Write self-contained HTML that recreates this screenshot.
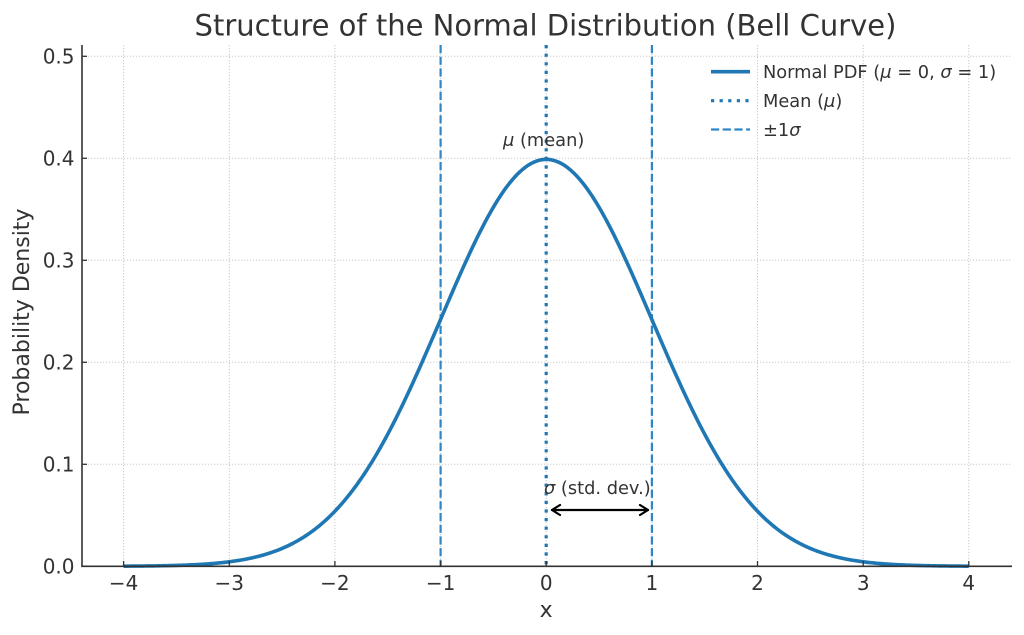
<!DOCTYPE html>
<html>
<head>
<meta charset="utf-8">
<style>
  html, body { margin:0; padding:0; background:#ffffff; }
  svg { display:block; }
  text { font-family: "DejaVu Sans", "Liberation Sans", sans-serif; fill:#333333; }
</style>
</head>
<body>
<svg width="1024" height="635" viewBox="0 0 1024 635" xmlns="http://www.w3.org/2000/svg">
  <rect x="0" y="0" width="1024" height="635" fill="#ffffff"/>

  <!-- grid -->
  <g stroke="#c8c8c8" stroke-width="1" stroke-dasharray="1.2 1.8">
    <line x1="123.6" y1="45" x2="123.6" y2="566"/>
    <line x1="229.3" y1="45" x2="229.3" y2="566"/>
    <line x1="334.9" y1="45" x2="334.9" y2="566"/>
    <line x1="440.6" y1="45" x2="440.6" y2="566"/>
    <line x1="546.2" y1="45" x2="546.2" y2="566"/>
    <line x1="651.9" y1="45" x2="651.9" y2="566"/>
    <line x1="757.5" y1="45" x2="757.5" y2="566"/>
    <line x1="863.2" y1="45" x2="863.2" y2="566"/>
    <line x1="968.8" y1="45" x2="968.8" y2="566"/>
    <line x1="82" y1="56.3" x2="1012" y2="56.3"/>
    <line x1="82" y1="158.3" x2="1012" y2="158.3"/>
    <line x1="82" y1="260.3" x2="1012" y2="260.3"/>
    <line x1="82" y1="362.3" x2="1012" y2="362.3"/>
    <line x1="82" y1="464.3" x2="1012" y2="464.3"/>
  </g>

  <!-- ±1σ dashed lines -->
  <g stroke="#2f86c6" stroke-width="2.2" stroke-dasharray="8.2 3.5">
    <line x1="440.6" y1="45" x2="440.6" y2="566"/>
    <line x1="651.9" y1="45" x2="651.9" y2="566"/>
  </g>
  <!-- mean dotted line -->
  <line x1="546.2" y1="45" x2="546.2" y2="566" stroke="#1f77b4" stroke-width="3.2" stroke-dasharray="3.2 5.4"/>

  <!-- curve -->
  <polyline id="curve" fill="none" stroke="#1f77b4" stroke-width="3.6" stroke-linejoin="round" stroke-linecap="butt"
    points="123.6,566.16 144.7,566.0 165.9,565.68 187.0,565.05 208.1,563.87 229.3,561.78 250.4,558.22 271.5,552.45 292.6,543.46 313.8,530.12 334.9,511.23 356.0,485.77 377.2,453.16 398.3,413.58 419.4,368.23 440.6,319.49 461.7,270.82 482.8,226.42 503.9,190.66 525.1,167.44 546.2,159.38 567.3,167.44 588.5,190.66 609.6,226.42 630.7,270.82 651.9,319.49 673.0,368.23 694.1,413.58 715.2,453.16 736.4,485.77 757.5,511.23 778.6,530.12 799.8,543.46 820.9,552.45 842.0,558.22 863.2,561.78 884.3,563.87 905.4,565.05 926.5,565.68 947.7,566.0 968.8,566.16"/>

  <!-- spines -->
  <g stroke="#333333" stroke-width="1.6">
    <line x1="82" y1="45" x2="82" y2="566.3"/>
    <line x1="81.2" y1="566.3" x2="1012" y2="566.3"/>
  </g>
  <!-- ticks (inward) -->
  <g stroke="#333333" stroke-width="1.3">
    <line x1="123.6" y1="566" x2="123.6" y2="561"/>
    <line x1="229.3" y1="566" x2="229.3" y2="561"/>
    <line x1="334.9" y1="566" x2="334.9" y2="561"/>
    <line x1="440.6" y1="566" x2="440.6" y2="561"/>
    <line x1="546.2" y1="566" x2="546.2" y2="561"/>
    <line x1="651.9" y1="566" x2="651.9" y2="561"/>
    <line x1="757.5" y1="566" x2="757.5" y2="561"/>
    <line x1="863.2" y1="566" x2="863.2" y2="561"/>
    <line x1="968.8" y1="566" x2="968.8" y2="561"/>
    <line x1="82" y1="56.3" x2="87" y2="56.3"/>
    <line x1="82" y1="158.3" x2="87" y2="158.3"/>
    <line x1="82" y1="260.3" x2="87" y2="260.3"/>
    <line x1="82" y1="362.3" x2="87" y2="362.3"/>
    <line x1="82" y1="464.3" x2="87" y2="464.3"/>
    <line x1="82" y1="566.3" x2="87" y2="566.3"/>
  </g>

  <!-- x tick labels -->
  <g font-size="20" text-anchor="middle">
    <text x="123.6" y="590">−4</text>
    <text x="229.3" y="590">−3</text>
    <text x="334.9" y="590">−2</text>
    <text x="440.6" y="590">−1</text>
    <text x="546.2" y="590">0</text>
    <text x="651.9" y="590">1</text>
    <text x="757.5" y="590">2</text>
    <text x="863.2" y="590">3</text>
    <text x="968.8" y="590">4</text>
  </g>
  <!-- y tick labels -->
  <g font-size="20" text-anchor="end">
    <text x="74.5" y="63.6">0.5</text>
    <text x="74.5" y="165.6">0.4</text>
    <text x="74.5" y="267.6">0.3</text>
    <text x="74.5" y="369.6">0.2</text>
    <text x="74.5" y="471.6">0.1</text>
    <text x="74.5" y="573.6">0.0</text>
  </g>

  <!-- axis labels -->
  <text x="546.2" y="617" font-size="22" text-anchor="middle">x</text>
  <text transform="translate(29,312) rotate(-90)" font-size="22" text-anchor="middle">Probability Density</text>

  <!-- title -->
  <text x="545.5" y="35.5" font-size="29" text-anchor="middle">Structure of the Normal Distribution (Bell Curve)</text>

  <!-- annotations -->
  <text x="503" y="146" font-size="17.8"><tspan font-style="italic">μ</tspan> (mean)</text>
  <text x="544" y="494" font-size="17.8"><tspan font-style="italic">σ</tspan> (std. dev.)</text>
  <g stroke="#000000" stroke-width="2.2" fill="none" stroke-linecap="round" stroke-linejoin="round">
    <line x1="552" y1="510" x2="648" y2="510"/>
    <polyline points="560,505 552,510 560,515"/>
    <polyline points="640,505 648,510 640,515"/>
  </g>

  <!-- legend -->
  <line x1="711" y1="71.7" x2="750" y2="71.7" stroke="#1f77b4" stroke-width="3.6"/>
  <line x1="711" y1="100.7" x2="750" y2="100.7" stroke="#1f77b4" stroke-width="3.2" stroke-dasharray="3.2 5.4"/>
  <line x1="711" y1="129.5" x2="750" y2="129.5" stroke="#2f86c6" stroke-width="2.2" stroke-dasharray="8.2 3.5"/>
  <g font-size="17.8">
    <text x="763" y="78">Normal PDF (<tspan font-style="italic">μ</tspan> = 0,  <tspan font-style="italic">σ</tspan> = 1)</text>
    <text x="763" y="107">Mean (<tspan font-style="italic">μ</tspan>)</text>
    <text x="763" y="136">±1<tspan font-style="italic">σ</tspan></text>
  </g>

  <script>
    (function(){
      var pts=[];
      for(var i=0;i<=400;i++){
        var x=-4+i*0.02;
        var y=Math.exp(-x*x/2)/Math.sqrt(2*Math.PI);
        pts.push((546.2+105.65*x).toFixed(2)+","+(566.3-1020*y).toFixed(2));
      }
      document.getElementById("curve").setAttribute("points",pts.join(" "));
    })();
  </script>
</svg>
</body>
</html>
